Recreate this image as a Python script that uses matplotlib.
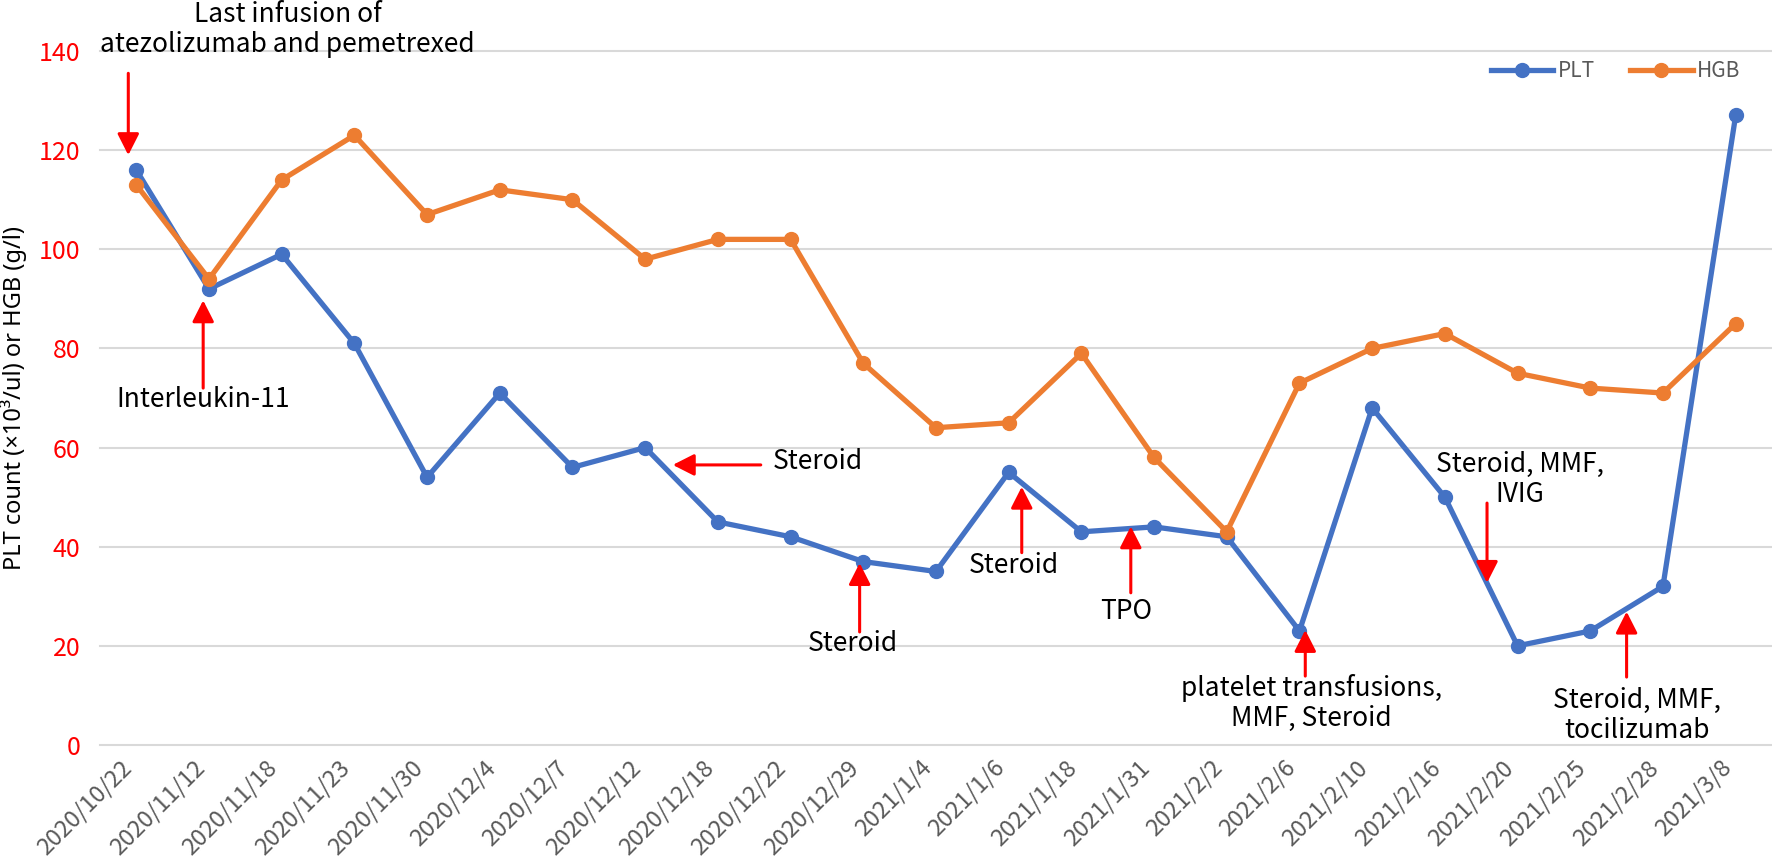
import numpy as np
import matplotlib
matplotlib.use('Agg')
import matplotlib.pyplot as plt

# Daten
dates = ['2020/10/22', '2020/11/12', '2020/11/18', '2020/11/23', '2020/11/30',
         '2020/12/4', '2020/12/7', '2020/12/12', '2020/12/18', '2020/12/22',
         '2020/12/29', '2021/1/4', '2021/1/6', '2021/1/18', '2021/1/31',
         '2021/2/2', '2021/2/6', '2021/2/10', '2021/2/16', '2021/2/20',
         '2021/2/25', '2021/2/28', '2021/3/8']
plt_count = [116, 92, 99, 81, 54, 71, 56, 60, 45, 42, 37, 35, 55, 43, 44,
             42, 23, 68, 50, 20, 23, 32, 127]
hgb = [113, 94, 114, 123, 107, 112, 110, 98, 102, 102, 77, 64, 65, 79, 58,
       43, 73, 80, 83, 75, 72, 71, 85]

plt.rcParams['font.family'] = ['Noto Sans CJK SC', 'DejaVu Sans']
plt.rcParams['font.weight'] = 'light'

fig = plt.figure(figsize=(17.72, 8.56), dpi=100)
ax = fig.add_axes([0.0564, 0.1297, 0.9436, 0.8107])

x = np.arange(len(dates))
ax.plot(x, plt_count, color='#4472C4', lw=3.8, marker='o', ms=10,
        label='PLT', solid_joinstyle='round')
ax.plot(x, hgb, color='#ED7D31', lw=3.8, marker='o', ms=10,
        label='HGB', solid_joinstyle='round')

ax.set_xlim(-0.5, len(dates) - 0.5)
ax.set_ylim(0, 140)
ax.set_yticks(range(0, 141, 20))
ax.set_xticks(x)
ax.set_xticklabels(dates, rotation=45, ha='right', va='top')
ax.yaxis.grid(True, color='#D9D9D9', lw=1.5)
for gl in ax.get_ygridlines():
    gl.set_clip_on(False)
ax.set_axisbelow(True)
for s in ax.spines.values():
    s.set_visible(False)
ax.tick_params(axis='y', length=0, pad=14, labelsize=18, labelcolor='red')
ax.tick_params(axis='x', length=0, pad=8, labelsize=17, labelcolor='#595959')

ax.legend(loc='center right', bbox_to_anchor=(0.981, 0.971), ncol=2,
          frameon=False, fontsize=15, handlelength=3.0, handletextpad=0.2,
          columnspacing=1.7, borderaxespad=0, borderpad=0,
          labelcolor='#595959')

fig.text(14 / 1772, 1 - 398 / 856, 'PLT count (×10³/ul) or HGB (g/l)',
         rotation=90, ha='center', va='center', fontsize=17,
         family=['Noto Sans', 'DejaVu Sans'], fontweight='light')

# Pfeile (Start -> Spitze)
arrows = [((-0.11, 135.5), (-0.11, 119)),
          ((0.92, 72.0), (0.92, 89.7)),
          ((8.59, 56.5), (7.38, 56.5)),
          ((9.95, 22.8), (9.95, 36.7)),
          ((12.18, 38.8), (12.18, 52.1)),
          ((13.68, 30.7), (13.68, 44.1)),
          ((16.08, 13.9), (16.08, 23.2)),
          ((18.58, 48.8), (18.58, 32.7)),
          ((20.5, 13.7), (20.5, 26.9))]
for start, tip in arrows:
    ax.annotate('', xy=tip, xytext=start, annotation_clip=False,
                arrowprops=dict(arrowstyle='-|>,head_length=0.65,head_width=0.33',
                                color='red', lw=2.2, shrinkA=0, shrinkB=0,
                                mutation_scale=20))

notes = [('Last infusion of\natezolizumab and pemetrexed', 2.08, 144.4, 'center'),
         ('Interleukin-11', 0.92, 69.6, 'center'),
         ('Steroid', 8.76, 57.1, 'left'),
         ('Steroid', 9.86, 20.5, 'center'),
         ('Steroid', 12.07, 36.3, 'center'),
         ('TPO', 13.62, 26.9, 'center'),
         ('platelet transfusions,\nMMF, Steroid', 16.16, 8.5, 'center'),
         ('Steroid, MMF,\nIVIG', 19.03, 53.6, 'center'),
         ('Steroid, MMF,\ntocilizumab', 20.64, 5.9, 'center')]
for txt, tx, ty, ha in notes:
    ax.text(tx, ty, txt, ha=ha, va='center', fontsize=19, color='black',
            linespacing=1.15, clip_on=False)

fig.savefig('out.png', dpi=100)
